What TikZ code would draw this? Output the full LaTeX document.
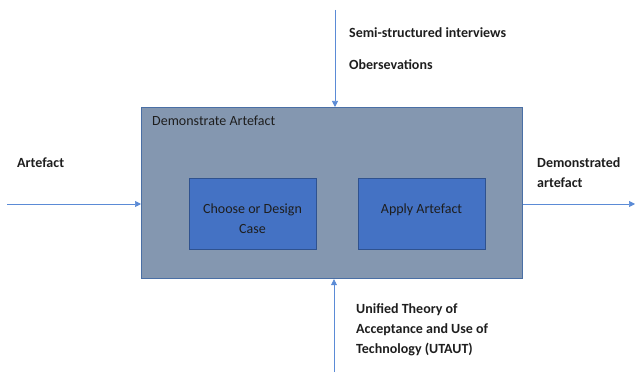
\documentclass[tikz,border=0pt]{standalone}
\usepackage{fontspec}
\setmainfont{Carlito}
\usetikzlibrary{arrows.meta}
\definecolor{outerfill}{HTML}{8497B0}
\definecolor{outerline}{HTML}{4A6FA5}
\definecolor{innerfill}{HTML}{4472C4}
\definecolor{innerline}{HTML}{2F528F}
\definecolor{flow}{HTML}{5B8BD6}
\definecolor{ink}{HTML}{1E1E1E}
\tikzset{
  stage/.style={draw=outerline, line width=1.2pt, fill=outerfill, anchor=north west, inner sep=0pt},
  task/.style={draw=innerline, line width=0.8pt, fill=innerfill, anchor=north west, inner sep=0pt,
    minimum width=127pt, minimum height=71pt},
  tasktext/.style={font=\fontsize{14}{19.5}\selectfont, text=ink, align=center, inner sep=0pt, anchor=base},
  lbl/.style={font=\bfseries\fontsize{14}{20}\selectfont, text=ink, anchor=base west, align=left, inner sep=0pt},
  flowline/.style={draw=flow, line width=0.7pt, -{Triangle[length=6pt,width=6pt]}}
}
\begin{document}
\begin{tikzpicture}[x=1pt,y=-1pt]
\useasboundingbox (0,0) rectangle (635,374);
% main activity box
\node[stage, minimum width=381pt, minimum height=171pt] (act) at (141,107) {};
\node[anchor=base west, font=\fontsize{14}{17}\selectfont, text=ink, inner sep=0pt] (acttitle) at (152,126) {Demonstrate Artefact};
% sub-tasks (text nodes are placed by the baseline of their last line)
\node[task] (choose) at (189,178) {};
\node[task] (apply) at (358,178) {};
\node[tasktext] (choosetxt) at (252.5,233.5) {Choose or Design\\Case};
\node[tasktext] (applytxt) at (421.5,214) {Apply Artefact};
% inputs, outputs, controls and mechanisms
\coordinate (inL) at (7,204);
\coordinate (outR) at (635,204);
\coordinate (topS) at (335,10);
\coordinate (botS) at (334,372);
\draw[flowline] (inL) -- (inL -| act.west);
\draw[flowline] (act.east |- outR) -- (outR);
\draw[flowline] (topS) -- (topS |- act.north);
\draw[flowline] (botS) -- (botS |- act.south);
% labels
\node[lbl] (lin) at (17,168) {Artefact};
\node[lbl] (lout) at (537,188) {Demonstrated\\artefact};
\node[lbl] (lctl1) at (349,38) {Semi-structured interviews};
\node[lbl] (lctl2) at (349,70) {Obersevations};
\node[lbl] (lmech) at (356,353) {Unified Theory of\\Acceptance and Use of\\Technology (UTAUT)};
\end{tikzpicture}
\end{document}
